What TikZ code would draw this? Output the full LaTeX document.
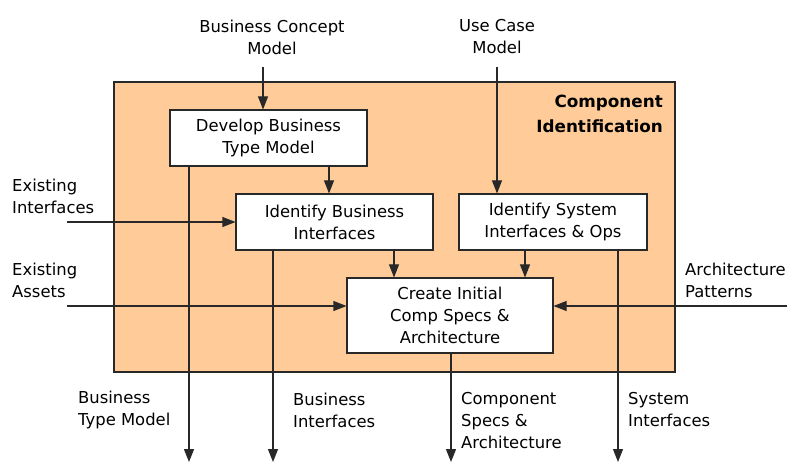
\documentclass[tikz,border=0pt]{standalone}
\usepackage{fontspec}
\setmainfont{DejaVu Sans}
\usetikzlibrary{arrows.meta}
\definecolor{peach}{RGB}{255,204,153}
\definecolor{ln}{RGB}{40,40,40}
\begin{document}
\begin{tikzpicture}[x=1pt,y=-1pt,
  txt/.style={font=\fontsize{16.4}{22}\selectfont, inner sep=0pt},
  procbox/.style={draw=ln, line width=1.1pt, fill=white, txt, align=center},
  arr/.style={draw=ln, line width=1.1pt, -{Triangle[length=13pt,width=10pt]}},
  ln/.style={draw=ln, line width=1.1pt}
]
\useasboundingbox (0,0) rectangle (803,462);
% container
\node[draw=ln, line width=1.1pt, fill=peach, minimum width=561pt, minimum height=290pt, inner sep=0pt] (ci) at (394.5,227) {};
\node[txt, font=\fontsize{16.8}{25}\selectfont\bfseries, align=right, anchor=east] (title) at (663,114) {Component\\Identification};
% process boxes
\node[procbox, minimum width=197pt, minimum height=56pt] (dev) at (268.5,138) {Develop Business\\Type Model};
\node[procbox, minimum width=197pt, minimum height=56pt] (ibi) at (334.5,222) {Identify Business\\Interfaces};
\node[procbox, minimum width=188pt, minimum height=56pt] (isi) at (553,222) {Identify System\\Interfaces \& Ops};
\node[procbox, minimum width=206pt, minimum height=75pt] (cic) at (450,315.5) {Create Initial\\Comp Specs \&\\Architecture};
% external labels
\node[txt, align=center] (bcm) at (272,37) {Business Concept\\Model};
\node[txt, align=center] (ucm) at (497,37) {Use Case\\Model};
\node[txt, align=left, anchor=west] (ei) at (12,196) {Existing\\Interfaces};
\node[txt, align=left, anchor=west] (ea) at (12,280) {Existing\\Assets};
\node[txt, align=left, anchor=west] (ap) at (685,280) {Architecture\\Patterns};
\node[txt, align=left, anchor=west] (btm) at (78,410) {Business\\Type Model};
\node[txt, align=left, anchor=west] (bif) at (293,410) {Business\\Interfaces};
\node[txt, align=left, anchor=west] (csa) at (461,421) {Component\\Specs \&\\Architecture};
\node[txt, align=left, anchor=west] (sif) at (628,410) {System\\Interfaces};
% free ends
\coordinate (bcmS) at (263,67);
\coordinate (ucmS) at (497,67);
\coordinate (eiS) at (67,222);
\coordinate (eaS) at (67,306);
\coordinate (apS) at (787,306);
\coordinate (o1) at (189,462);
\coordinate (o2) at (273,462);
\coordinate (o3) at (451,462);
\coordinate (o4) at (618,462);
% inputs
\draw[arr] (bcmS) -- (bcmS |- dev.north);
\draw[arr] (ucmS) -- (ucmS |- isi.north);
\draw[arr] (eiS) -- (eiS -| ibi.west);
\draw[arr] (eaS) -- (eaS -| cic.west);
\draw[arr] (apS) -- (apS -| cic.east);
% internal
\draw[arr] (dev.south -| 329,0) -- (ibi.north -| 329,0);
\draw[arr] (ibi.south -| 394,0) -- (cic.north -| 394,0);
\draw[arr] (isi.south -| 525,0) -- (cic.north -| 525,0);
% outputs
\draw[arr] (dev.south -| o1) -- (o1);
\draw[arr] (ibi.south -| o2) -- (o2);
\draw[arr] (cic.south -| o3) -- (o3);
\draw[arr] (isi.south -| o4) -- (o4);
\end{tikzpicture}
\end{document}
